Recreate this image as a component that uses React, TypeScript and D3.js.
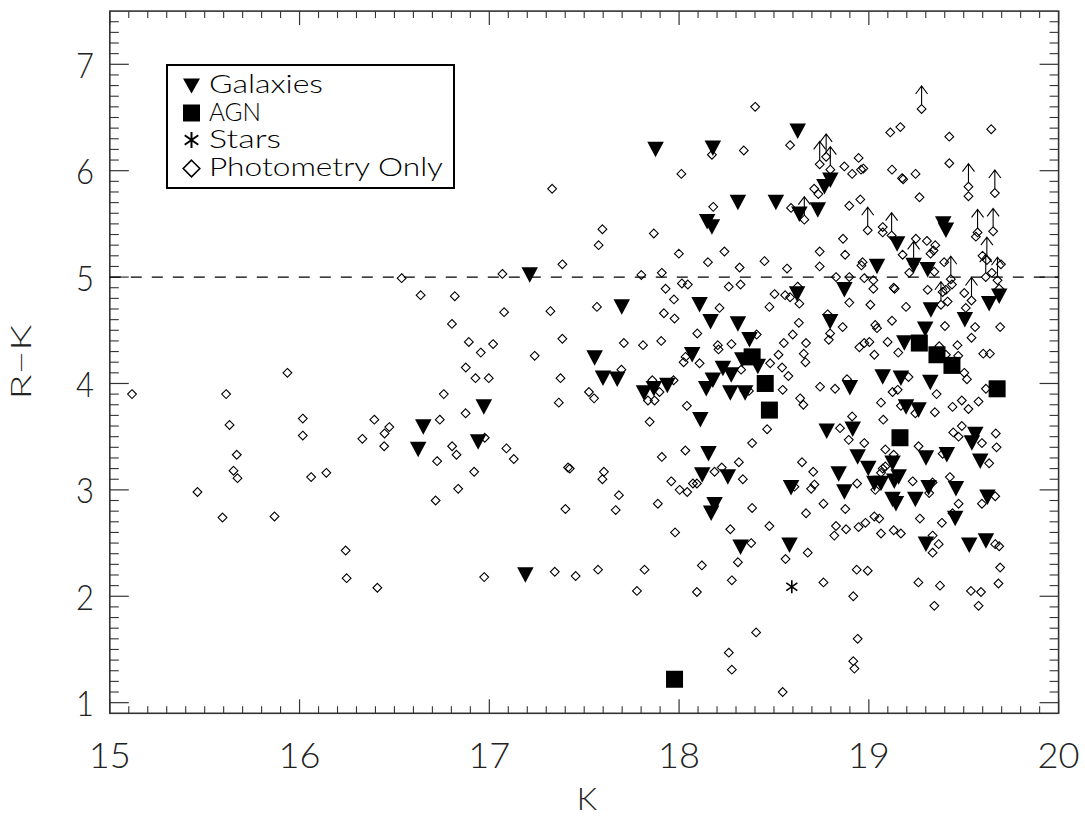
import React from 'react';
import * as d3 from 'd3';

// ---- Data (K magnitude, R-K colour) ----
const xTickValues = [15, 16, 17, 18, 19, 20];
const yTickValues = [1, 2, 3, 4, 5, 6, 7];
const legendLabels = ['Galaxies', 'AGN', 'Stars', 'Photometry Only'];

const galaxies: [number, number][] = [
  [17.213, 5.02], [16.971, 3.78], [16.652, 3.59], [16.625, 3.38], [16.941, 3.45], [17.19, 2.2],
  [18.625, 6.37], [17.876, 6.2], [18.178, 6.21], [18.31, 5.7], [18.51, 5.7], [18.148, 5.52],
  [18.173, 5.47], [18.634, 5.59], [18.622, 4.84], [18.797, 5.91], [18.766, 5.85], [18.731, 5.63],
  [19.149, 5.31], [19.392, 5.5], [19.406, 5.44], [19.043, 5.1], [19.236, 5.11], [19.31, 5.07],
  [19.634, 4.75], [19.687, 4.82], [18.871, 4.88], [17.698, 4.72], [18.108, 4.74], [18.166, 4.58],
  [18.31, 4.56], [18.371, 4.41], [17.555, 4.24], [17.599, 4.05], [17.674, 4.04], [17.815, 3.91],
  [17.867, 3.95], [17.938, 3.98], [18.069, 4.27], [18.231, 4.14], [18.275, 4.08], [18.178, 4.03],
  [18.143, 3.95], [18.333, 4.22], [18.415, 4.16], [18.27, 3.91], [18.348, 3.91], [18.112, 3.66],
  [18.155, 3.34], [18.122, 3.14], [18.257, 3.12], [18.187, 2.86], [18.169, 2.78], [18.59, 3.02],
  [19.327, 4.69], [18.796, 4.58], [19.297, 4.51], [19.506, 4.6], [19.187, 4.38], [19.073, 4.06],
  [19.169, 4.05], [19.324, 4.01], [18.9, 3.96], [19.196, 3.78], [19.262, 3.75], [18.778, 3.55],
  [18.915, 3.57], [19.561, 3.52], [19.543, 3.44], [19.587, 3.27], [18.941, 3.31], [18.997, 3.2],
  [19.029, 3.06], [19.064, 3.06], [19.125, 3.25], [19.157, 3.12], [19.134, 3.08], [19.301, 3.3],
  [19.411, 3.33], [18.841, 3.15], [18.871, 2.98], [19.125, 2.91], [19.143, 2.87], [19.245, 2.91],
  [19.315, 3.02], [19.459, 3.01], [19.625, 2.93], [19.455, 2.73], [18.324, 2.46], [18.582, 2.48],
  [19.301, 2.49], [19.529, 2.48], [19.617, 2.52],
];

const agn: [number, number][] = [
  [18.385, 4.25], [18.454, 4.0], [18.476, 3.75], [19.266, 4.38], [19.359, 4.27],
  [19.438, 4.17], [19.676, 3.95], [19.164, 3.49], [17.976, 1.22],
];

const stars: [number, number][] = [[18.594, 2.09]];

const photometryOnly: [number, number][] = [
  [15.117, 3.9], [15.936, 4.1], [15.613, 3.9], [15.631, 3.61], [15.669, 3.33], [15.652, 3.18],
  [15.673, 3.11], [15.462, 2.98], [15.594, 2.74], [15.868, 2.75], [16.017, 3.67], [16.017, 3.51],
  [16.061, 3.12], [16.141, 3.16], [16.243, 2.43], [16.248, 2.17],
  [17.331, 5.83], [16.538, 4.99], [17.069, 5.03], [17.385, 5.12], [16.638, 4.83], [16.818, 4.82],
  [17.078, 4.67], [17.322, 4.68], [16.803, 4.56], [16.892, 4.39], [16.955, 4.29], [17.02, 4.37],
  [17.239, 4.26], [17.385, 4.42], [16.876, 4.15], [16.927, 4.05], [16.997, 4.05], [17.375, 4.05],
  [16.76, 3.9], [17.366, 3.82], [16.875, 3.72], [16.394, 3.66], [16.739, 3.66], [16.473, 3.59],
  [16.448, 3.53], [16.331, 3.48], [16.446, 3.41], [16.976, 3.49], [16.804, 3.41], [16.827, 3.33],
  [17.09, 3.39], [17.129, 3.29], [16.725, 3.27], [16.92, 3.17], [16.836, 3.01], [16.717, 2.9],
  [17.415, 3.21], [17.401, 2.82], [16.41, 2.08], [16.973, 2.18], [17.345, 2.23],
  [18.401, 6.6], [18.585, 6.24], [18.173, 6.15], [18.341, 6.19], [18.012, 5.97], [18.18, 5.66],
  [18.59, 5.65], [17.596, 5.45], [17.576, 5.3], [17.867, 5.41], [17.999, 5.22], [18.239, 5.24],
  [18.152, 5.14], [18.319, 5.09], [18.45, 5.15], [18.569, 5.08], [17.801, 5.02], [17.909, 5.04],
  [17.929, 4.89], [18.015, 4.94], [18.046, 4.93], [18.262, 4.91], [18.324, 4.93], [17.973, 4.79],
  [17.567, 4.72], [18.213, 4.71], [18.503, 4.84], [18.559, 4.83], [18.585, 4.81], [18.625, 4.91],
  [18.634, 4.75], [18.476, 4.72], [18.66, 5.54],
  [19.278, 6.58], [19.166, 6.41], [19.113, 6.36], [19.424, 6.32], [19.645, 6.39], [19.424, 6.07],
  [18.741, 6.06], [18.775, 6.13], [18.797, 6.01], [18.712, 5.83], [18.734, 5.78], [18.871, 6.04],
  [18.946, 6.12], [18.912, 5.97], [18.959, 6.01], [18.971, 6.02], [19.122, 6.01], [19.175, 5.93],
  [19.181, 5.92], [19.246, 5.97], [19.267, 5.75], [19.525, 5.85], [19.525, 5.76], [19.664, 5.79],
  [18.897, 5.67], [18.955, 5.73], [18.994, 5.44], [19.073, 5.47], [19.073, 5.42], [19.12, 5.39],
  [18.864, 5.36], [18.741, 5.24], [18.875, 5.21], [18.741, 5.1], [18.967, 5.14], [18.961, 5.11],
  [19.178, 5.21], [19.248, 5.36], [19.236, 5.12], [19.213, 5.04], [19.306, 5.34], [19.35, 5.3],
  [19.341, 5.25], [19.325, 5.22], [19.345, 5.05], [19.397, 5.14], [19.432, 4.98], [19.438, 4.93],
  [19.31, 4.88], [19.389, 4.86], [19.406, 4.88], [19.415, 4.77], [19.573, 5.42], [19.564, 5.38],
  [19.655, 5.43], [19.599, 5.2], [19.622, 5.16], [19.696, 5.12], [19.616, 5.0], [19.678, 4.97],
  [19.648, 5.04], [19.687, 4.89], [19.503, 4.85], [19.541, 4.78], [19.511, 4.71], [18.827, 5.0],
  [18.897, 5.0], [18.976, 4.99], [19.024, 4.97], [19.024, 4.89], [19.131, 4.9], [19.136, 4.89],
  [18.897, 4.76], [19.008, 4.74], [19.196, 4.72],
  [17.92, 4.66], [17.976, 4.61], [18.631, 4.57], [18.599, 4.46], [18.552, 4.38], [18.669, 4.38],
  [18.657, 4.28], [18.666, 4.2], [17.709, 4.38], [17.81, 4.36], [17.906, 4.4], [18.096, 4.47],
  [18.204, 4.36], [18.208, 4.32], [18.276, 4.37], [18.409, 4.46], [17.696, 4.13], [17.525, 3.92],
  [17.552, 3.86], [17.859, 4.03], [17.971, 4.03], [17.836, 3.84], [17.871, 3.84], [17.897, 3.92],
  [18.024, 4.2], [18.034, 4.25], [18.108, 4.19], [18.327, 4.13], [18.48, 4.19], [18.524, 4.27],
  [18.543, 4.15], [18.576, 4.07], [18.345, 3.93], [18.368, 3.93], [18.546, 3.94], [18.638, 3.86],
  [18.655, 3.8], [18.041, 3.79], [17.845, 3.64], [18.464, 3.57], [18.385, 3.44], [18.033, 3.37],
  [17.909, 3.31], [17.424, 3.2], [18.315, 3.26], [18.225, 3.21], [18.187, 3.17], [18.336, 3.1],
  [17.604, 3.17], [17.596, 3.1], [17.959, 3.08], [18.003, 3.0], [18.043, 2.98], [18.073, 3.06],
  [18.094, 3.06], [17.683, 2.95], [17.888, 2.87], [17.666, 2.81], [18.385, 2.83], [18.608, 3.03],
  [18.648, 3.26], [18.669, 2.78],
  [19.38, 4.74], [18.783, 4.65], [18.796, 4.47], [18.789, 4.41], [18.862, 4.53], [19.034, 4.55],
  [19.043, 4.52], [19.122, 4.59], [19.401, 4.54], [19.56, 4.53], [19.692, 4.53], [19.541, 4.43],
  [18.95, 4.34], [18.976, 4.38], [19.003, 4.39], [19.029, 4.27], [19.099, 4.39], [19.155, 4.29],
  [19.371, 4.35], [19.406, 4.27], [19.467, 4.36], [19.471, 4.26], [19.503, 4.1], [19.517, 4.04],
  [19.603, 4.28], [19.638, 4.28], [19.617, 3.95], [19.578, 3.83], [18.885, 4.04], [18.743, 3.97],
  [18.822, 3.95], [19.209, 4.06], [19.125, 3.92], [19.152, 3.94], [19.357, 3.9], [19.064, 3.82],
  [19.169, 3.79], [19.245, 3.72], [19.348, 3.73], [19.441, 3.78], [19.49, 3.84], [19.525, 3.76],
  [19.076, 3.66], [18.912, 3.69], [18.848, 3.58], [18.894, 3.47], [18.976, 3.44], [19.087, 3.38],
  [19.131, 3.33], [19.262, 3.41], [19.445, 3.54], [19.473, 3.5], [19.49, 3.6], [19.596, 3.44],
  [19.669, 3.53], [19.673, 3.4], [19.389, 3.34], [19.073, 3.2], [19.087, 3.22], [19.064, 3.16],
  [18.707, 3.17], [18.713, 3.05], [18.696, 3.01], [18.938, 3.06], [19.034, 3.0], [19.231, 3.08],
  [19.336, 3.07], [19.318, 2.97], [19.427, 3.12], [19.473, 2.87], [19.596, 2.87], [19.666, 2.94],
  [19.634, 3.25], [18.761, 2.87], [18.876, 2.82], [19.029, 2.75], [19.055, 2.73], [19.269, 2.73],
  [19.441, 2.78],
  [18.827, 2.66], [18.818, 2.57], [18.88, 2.63], [18.946, 2.65], [18.982, 2.69], [19.064, 2.59],
  [19.131, 2.62], [19.169, 2.59], [19.385, 2.69], [19.336, 2.57], [19.368, 2.49], [19.336, 2.41],
  [19.666, 2.49], [19.687, 2.47], [19.692, 2.27], [19.683, 2.12], [19.538, 2.05], [19.591, 2.04],
  [19.578, 1.91], [19.261, 2.13], [19.375, 2.1], [19.345, 1.91], [18.678, 2.41], [18.936, 2.25],
  [18.994, 2.24], [18.761, 2.13], [18.918, 2.0], [18.941, 1.6], [18.918, 1.39], [18.924, 1.32],
  [17.979, 2.6], [18.27, 2.63], [18.476, 2.66], [18.38, 2.5], [18.31, 2.32], [18.561, 2.35],
  [17.455, 2.19], [17.573, 2.25], [17.818, 2.25], [17.778, 2.05], [18.12, 2.29], [18.094, 2.04],
  [18.278, 2.15], [18.406, 1.66], [18.262, 1.47], [18.278, 1.31], [18.546, 1.1],
];

// photometry-only objects that are lower limits in R-K (drawn with upward arrows)
const lowerLimits: [number, number][] = [
  [18.66, 5.54], [19.278, 6.58], [18.741, 6.06], [18.775, 6.13], [18.797, 6.01], [19.525, 5.85],
  [19.664, 5.79], [18.994, 5.44], [19.12, 5.39], [19.236, 5.12], [19.432, 4.98], [19.38, 4.74],
  [19.573, 5.42], [19.655, 5.43], [19.622, 5.16], [19.616, 5.0], [19.678, 4.97], [19.541, 4.78],
];

const cutLevel = 5;

const W = 1085;
const H = 817;
const tickFont = "Lato, 'DejaVu Sans', sans-serif";
const legFont = "Lato, 'DejaVu Sans', sans-serif";

const tri = (cx: number, cy: number, w: number, h: number) =>
  `M${cx - w / 2},${cy - h / 2}L${cx + w / 2},${cy - h / 2}L${cx},${cy + h / 2}Z`;
const dia = (cx: number, cy: number, r: number) =>
  `M${cx},${cy - r}L${cx + r},${cy}L${cx},${cy + r}L${cx - r},${cy}Z`;

function Star({ cx, cy, s, w }: { cx: number; cy: number; s: number; w: number }) {
  const a = s * 0.85;
  const b = s * 0.6;
  const d = `M${cx},${cy - s}L${cx},${cy + s}M${cx - a},${cy - b}L${cx + a},${cy + b}M${cx - a},${cy + b}L${cx + a},${cy - b}`;
  return <path d={d} stroke="#000" strokeWidth={w} fill="none" />;
}

export default function App() {
  const x = d3.scaleLinear().domain([15, 20]).range([109.8, 1058.6]);
  const y = d3.scaleLinear().domain([0.9, 7.5]).range([713.3, 11.1]);
  const [x0, x1] = x.range();
  const [y0, y1] = y.range();

  const xMinor = d3.range(150, 201).map((v) => v / 10).filter((v) => Math.abs(v - Math.round(v)) > 1e-6);
  const yMinor = d3.range(10, 75).map((v) => v / 10).filter((v) => Math.abs(v - Math.round(v)) > 1e-6);

  const axisColor = '#333';
  const ticks: JSX.Element[] = [];
  xTickValues.forEach((v, i) => {
    const px = x(v);
    ticks.push(<line key={'xb' + i} x1={px} x2={px} y1={y0} y2={y0 - 14} stroke={axisColor} strokeWidth={1.2} />);
    ticks.push(<line key={'xt' + i} x1={px} x2={px} y1={y1} y2={y1 + 14} stroke={axisColor} strokeWidth={1.2} />);
  });
  xMinor.forEach((v, i) => {
    const px = x(v);
    ticks.push(<line key={'xbm' + i} x1={px} x2={px} y1={y0} y2={y0 - 7} stroke={axisColor} strokeWidth={1.1} />);
    ticks.push(<line key={'xtm' + i} x1={px} x2={px} y1={y1} y2={y1 + 7} stroke={axisColor} strokeWidth={1.1} />);
  });
  yTickValues.forEach((v, i) => {
    const py = y(v);
    ticks.push(<line key={'yl' + i} x1={x0} x2={x0 + 19} y1={py} y2={py} stroke={axisColor} strokeWidth={1.2} />);
    ticks.push(<line key={'yr' + i} x1={x1} x2={x1 - 19} y1={py} y2={py} stroke={axisColor} strokeWidth={1.2} />);
  });
  yMinor.forEach((v, i) => {
    const py = y(v);
    ticks.push(<line key={'ylm' + i} x1={x0} x2={x0 + 9} y1={py} y2={py} stroke={axisColor} strokeWidth={1.1} />);
    ticks.push(<line key={'yrm' + i} x1={x1} x2={x1 - 9} y1={py} y2={py} stroke={axisColor} strokeWidth={1.1} />);
  });

  const lx = 191.5;
  const legRows = [86, 113, 140, 168.5];
  const legBase = [93, 121, 148, 176];
  const legLen = [114, 52, 72, 234];

  return (
    <svg width={W} height={H} style={{ position: 'absolute', left: 0, top: 0, background: '#fff' }}>
      <rect x={0} y={0} width={W} height={H} fill="#fff" />
      {/* frame */}
      <rect x={x0} y={y1} width={x1 - x0} height={y0 - y1} fill="none" stroke={axisColor} strokeWidth={1.6} />
      {ticks}
      {/* dashed cut */}
      <line x1={x0} x2={x1} y1={y(cutLevel)} y2={y(cutLevel)} stroke="#000" strokeWidth={1.1} strokeDasharray="11 10" />

      {/* tick labels */}
      {xTickValues.map((v) => (
        <text key={'xl' + v} x={x(v)} y={768} textAnchor="middle" fontFamily={tickFont} fontWeight={300}
          fontSize={36} fill="#222" textLength={42} lengthAdjust="spacingAndGlyphs">{v}</text>
      ))}
      {yTickValues.map((v) => (
        <text key={'yl' + v} x={94} y={y(v) + 13.5} textAnchor="end" fontFamily={tickFont} fontWeight={300}
          fontSize={36} fill="#222" textLength={18} lengthAdjust="spacingAndGlyphs">{v}</text>
      ))}
      <text x={587} y={810} textAnchor="middle" fontFamily={tickFont} fontWeight={300} fontSize={32} fill="#222">K</text>
      <text transform={`translate(31,362) rotate(-90)`} textAnchor="middle" fontFamily={tickFont} fontWeight={300}
        fontSize={28} fill="#222" textLength={75} lengthAdjust="spacingAndGlyphs">R−K</text>

      {/* galaxies */}
      {galaxies.map((d, i) => (
        <path key={'g' + i} d={tri(x(d[0]), y(d[1]), 16.5, 15.5)} fill="#000" />
      ))}
      {/* AGN */}
      {agn.map((d, i) => (
        <rect key={'a' + i} x={x(d[0]) - 8.5} y={y(d[1]) - 8.5} width={17} height={17} fill="#000" />
      ))}
      {/* stars */}
      {stars.map((d, i) => (
        <Star key={'s' + i} cx={x(d[0])} cy={y(d[1])} s={6.5} w={1.6} />
      ))}
      {/* photometry only */}
      {photometryOnly.map((d, i) => (
        <path key={'p' + i} d={dia(x(d[0]), y(d[1]), 4.4)} fill="none" stroke="#000" strokeWidth={1.1} />
      ))}
      {/* lower-limit arrows */}
      {lowerLimits.map((d, i) => {
        const cx = x(d[0]);
        const cy = y(d[1]);
        const tip = cy - 23;
        return (
          <path key={'l' + i} d={`M${cx},${cy - 4.4}L${cx},${tip}M${cx - 6},${tip + 8}L${cx},${tip}L${cx + 6},${tip + 8}`}
            fill="none" stroke="#000" strokeWidth={1.1} />
        );
      })}

      {/* legend */}
      <rect x={167} y={65} width={287} height={123} fill="#fff" stroke="#000" strokeWidth={2} />
      <path d={tri(lx, legRows[0], 17, 15)} fill="#000" />
      <rect x={lx - 8.5} y={legRows[1] - 8.5} width={17} height={17} fill="#000" />
      <Star cx={lx} cy={legRows[2]} s={8} w={2} />
      <path d={dia(lx, legRows[3], 8.3)} fill="none" stroke="#000" strokeWidth={1.6} />
      {legendLabels.map((t, i) => (
        <text key={'lt' + i} x={209} y={legBase[i]} fontFamily={legFont} fontWeight={300} fontSize={25} fill="#000"
          textLength={legLen[i]} lengthAdjust="spacingAndGlyphs">{t}</text>
      ))}
    </svg>
  );
}
